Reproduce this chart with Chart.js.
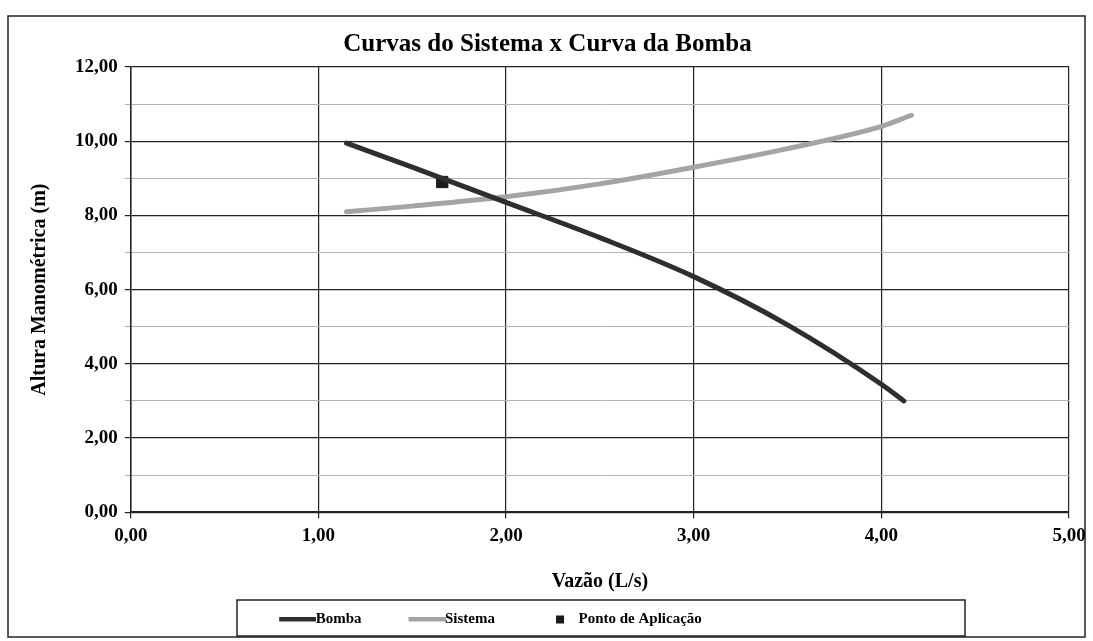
<!DOCTYPE html>
<html>
<head>
<meta charset="utf-8">
<script src="https://cdn.jsdelivr.net/npm/chart.js@4"></script>
<style>
  body { margin: 0; background: #fff; }
  #box { width: 1093px; height: 641px; }
</style>
</head>
<body>
<div id="box"><canvas id="grafico" width="1093" height="641"></canvas></div>
<script>
// dados
var vazaoBomba = [1.15, 1.5, 2.0, 2.5, 3.0, 3.5, 4.0, 4.12];
var alturaBomba = [9.95, 9.3, 8.35, 7.4, 6.35, 5.05, 3.45, 3.0];

var vazaoSistema = [1.15, 1.5, 2.0, 2.5, 3.0, 3.5, 4.0, 4.16];
var alturaSistema = [8.1, 8.25, 8.5, 8.85, 9.3, 9.8, 10.4, 10.7];

var pontoAplicacao = [1.66, 8.9];

var nomesSeries = ['Bomba', 'Sistema', 'Ponto de Aplicação'];

function virgula(v) {
    return v.toFixed(2).replace('.', ',');
}

function pares(xs, ys) {
    var out = [];
    for (var i = 0; i < xs.length; i++) {
        out.push({x: xs[i], y: ys[i]});
    }
    return out;
}

// ícones da legenda (largura 66 + 16 de folga para encostar no texto)
function iconeLinha(cor) {
    var c = document.createElement('canvas');
    c.width = 82; c.height = 6;
    var g = c.getContext('2d');
    g.fillStyle = cor;
    g.fillRect(45, 0, 37, 5);
    return c;
}
function iconeQuadrado() {
    var c = document.createElement('canvas');
    c.width = 82; c.height = 10;
    var g = c.getContext('2d');
    g.fillStyle = '#1a1a1a';
    g.fillRect(59, 1, 8, 8);
    return c;
}
var icones = [iconeLinha('#2e2e2e'), iconeLinha('#a4a4a4'), iconeQuadrado()];

var fonte = 'Liberation Serif';

var molduras = {
    id: 'molduras',
    afterLayout: function (chart) {
        // legenda um pouco deslocada para a esquerda, como no original
        var lg = chart.legend;
        var desloc = 472 - (lg.left + lg.right) / 2;
        lg.left += desloc;
        lg.right += desloc;
    },
    beforeDraw: function (chart) {
        var ctx = chart.ctx;
        ctx.save();
        ctx.fillStyle = '#fff';
        ctx.fillRect(0, 0, chart.width, chart.height);
        ctx.strokeStyle = '#222';
        ctx.lineWidth = 1.5;
        ctx.strokeRect(8, 16, 1077, 621);
        ctx.strokeRect(237, 600, 728, 36);
        ctx.restore();
    }
};

var ctx = document.getElementById('grafico');
var chart = new Chart(ctx, {
    type: 'scatter',
    data: {
        datasets: [{
            label: nomesSeries[0],
            data: pares(vazaoBomba, alturaBomba),
            showLine: true,
            borderColor: '#2e2e2e',
            borderWidth: 5,
            pointRadius: 0,
            cubicInterpolationMode: 'monotone',
            borderCapStyle: 'round'
        }, {
            label: nomesSeries[1],
            data: pares(vazaoSistema, alturaSistema),
            showLine: true,
            borderColor: '#a4a4a4',
            borderWidth: 5,
            pointRadius: 0,
            cubicInterpolationMode: 'monotone',
            borderCapStyle: 'round'
        }, {
            label: nomesSeries[2],
            data: [{x: pontoAplicacao[0], y: pontoAplicacao[1]}],
            pointStyle: 'rect',
            pointRadius: 8,
            backgroundColor: '#1a1a1a',
            borderColor: '#1a1a1a'
        }]
    },
    options: {
        responsive: false,
        animation: false,
        layout: { padding: { left: 26, right: 24, top: 21, bottom: 4 } },
        plugins: {
            title: {
                display: true,
                text: 'Curvas do Sistema x Curva da Bomba',
                color: '#000',
                font: { family: fonte, size: 25, weight: 'bold' },
                padding: { top: 9, bottom: 7 }
            },
            legend: {
                position: 'bottom',
                labels: {
                    color: '#000',
                    font: { family: fonte, size: 15, weight: 'bold' },
                    usePointStyle: true,
                    pointStyleWidth: 66,
                    padding: 10,
                    generateLabels: function (chart) {
                        var itens = Chart.defaults.plugins.legend.labels.generateLabels(chart);
                        for (var i = 0; i < itens.length; i++) {
                            itens[i].pointStyle = icones[i];
                        }
                        return itens;
                    }
                }
            },
            tooltip: { enabled: false }
        },
        scales: {
            x: {
                type: 'linear',
                min: 0,
                max: 5,
                ticks: {
                    stepSize: 1,
                    color: '#000',
                    padding: 6,
                    font: { family: fonte, size: 19, weight: 'bold' },
                    callback: function (v) { return virgula(v); }
                },
                grid: { color: '#222', lineWidth: 1.2, tickLength: 6 },
                border: { color: '#222', width: 1.5 },
                title: {
                    display: true,
                    text: 'Vazão (L/s)',
                    color: '#000',
                    font: { family: fonte, size: 20, weight: 'bold' },
                    padding: { top: 17, bottom: 8 }
                }
            },
            y: {
                min: 0,
                max: 12,
                ticks: {
                    stepSize: 1,
                    color: '#000',
                    padding: 7,
                    font: { family: fonte, size: 19, weight: 'bold' },
                    callback: function (v) { return v % 2 === 0 ? virgula(v) : ''; }
                },
                grid: {
                    color: function (c) { return c.tick && c.tick.value % 2 === 0 ? '#222' : '#b4b4b4'; },
                    lineWidth: function (c) { return c.tick && c.tick.value % 2 === 0 ? 1.2 : 1; },
                    tickLength: 6
                },
                border: { color: '#222', width: 1.5 },
                title: {
                    display: true,
                    text: 'Altura Manométrica (m)',
                    color: '#000',
                    font: { family: fonte, size: 20, weight: 'bold' },
                    padding: { top: 2, bottom: 16 }
                }
            }
        }
    },
    plugins: [molduras]
});
</script>
</body>
</html>
